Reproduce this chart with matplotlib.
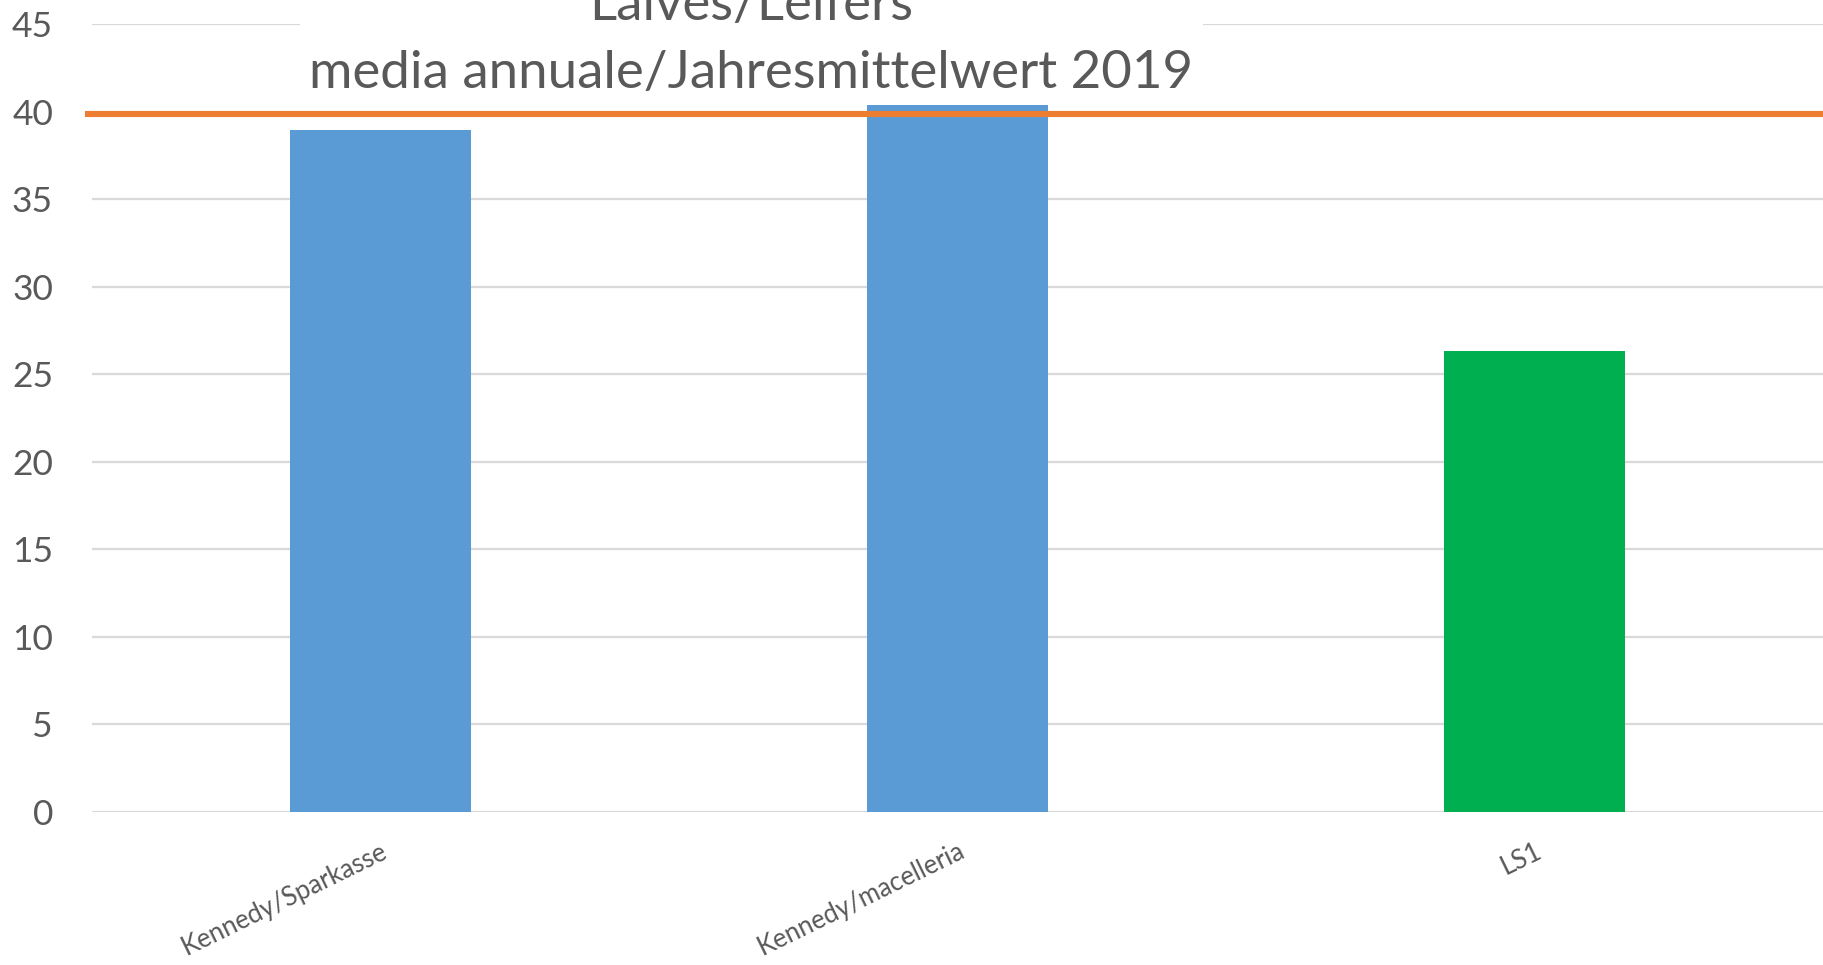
import matplotlib
matplotlib.use('Agg')
import matplotlib.pyplot as plt
from matplotlib.patches import Rectangle

# data
stations = ['Kennedy/Sparkasse', 'Kennedy/macelleria', 'LS1']
values = [38.95, 40.35, 26.3]
bar_colors = ['#5B9BD5', '#5B9BD5', '#00B050']
limit_value = 39.85
title_lines = ['Laives/Leifers', 'media annuale/Jahresmittelwert 2019']

plt.rcParams['font.family'] = ['Lato', 'DejaVu Sans']
text_color = '#595959'

fig = plt.figure(figsize=(18.23, 9.65), dpi=100)
ax = fig.add_axes([92 / 1823, 1 - 812 / 965, 1 - 92 / 1823, (812 - 24) / 965])

x = range(len(stations))
ax.bar(x, values, width=0.313, color=bar_colors, zorder=2)
ax.plot([-0.512, 2.5], [limit_value, limit_value], color='#ED7D31', lw=4.4,
        solid_capstyle='butt', clip_on=False, zorder=3)

ax.set_xlim(-0.5, 2.5)
ax.set_ylim(0, 45)
ax.set_yticks(range(0, 46, 5))
ax.yaxis.grid(True, color='#D9D9D9', lw=1.6, zorder=0)
ax.set_axisbelow(True)
for s in ax.spines.values():
    s.set_visible(False)
ax.tick_params(axis='y', length=0, pad=28, labelsize=25.5, labelcolor=text_color)
ax.tick_params(axis='x', length=0, pad=19, labelsize=18.5, labelcolor=text_color)
ax.set_xticks(list(x))
ax.set_xticklabels(stations, rotation=26, ha='right', va='top', rotation_mode='anchor')

# white title box hiding the top gridline
fig.patches.append(Rectangle((300 / 1823, 1 - 102 / 965), (1203 - 300) / 1823, 102 / 965,
                             transform=fig.transFigure, facecolor='white',
                             edgecolor='none', zorder=5))
fig.text(751 / 1823, 1 - 20 / 965, title_lines[0], ha='center', va='baseline',
         fontsize=38, color=text_color, zorder=6)
fig.text(751 / 1823, 1 - 88 / 965, title_lines[1], ha='center', va='baseline',
         fontsize=38, color=text_color, zorder=6)

fig.savefig('out.png', dpi=100, facecolor='white')
